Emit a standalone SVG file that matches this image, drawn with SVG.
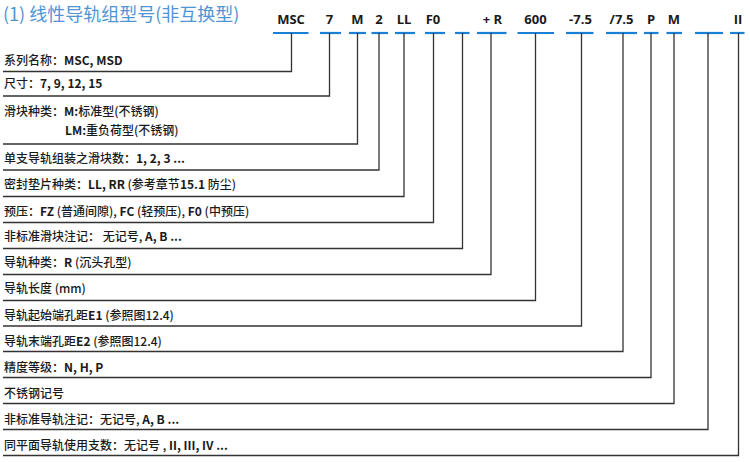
<svg xmlns="http://www.w3.org/2000/svg" width="750" height="462" viewBox="0 0 750 462">
<style>
.title{font-family:"Noto Sans CJK SC","Noto Sans",sans-serif;font-size:18px;font-weight:400;fill:#4f95d6}
.code{font-family:"Open Sans","Noto Sans",sans-serif;font-weight:700;font-size:13px;fill:#1a1a1a;text-anchor:middle}
.lbl{font-family:"Noto Sans CJK SC","Noto Sans",sans-serif;font-size:12px;font-weight:500;fill:#1a1a1a}
.b{font-weight:700}
.ul{stroke:#1a80d6;stroke-width:2.2;fill:none}
.con{stroke:#333;stroke-width:1.3;fill:none}
</style>
<rect width="750" height="462" fill="#fff"/>
<text class="title" x="3" y="21">(1) 线性导轨组型号(非互换型)</text>
<g id="codes">
<g id="c-msc"><text class="code" x="291" y="24">MSC</text><line class="ul" x1="273" y1="33" x2="308.5" y2="33"/></g>
<g id="c-7"><text class="code" x="329.5" y="24">7</text><line class="ul" x1="320" y1="33" x2="341" y2="33"/></g>
<g id="c-m"><text class="code" x="357.5" y="24">M</text><line class="ul" x1="349" y1="33" x2="366" y2="33"/></g>
<g id="c-2"><text class="code" x="379" y="24">2</text><line class="ul" x1="371.5" y1="33" x2="388" y2="33"/></g>
<g id="c-ll"><text class="code" x="404" y="24">LL</text><line class="ul" x1="395" y1="33" x2="415" y2="33"/></g>
<g id="c-f0"><text class="code" x="433" y="24">F0</text><line class="ul" x1="425" y1="33" x2="445" y2="33"/></g>
<g id="c-blank1"><line class="ul" x1="455" y1="33" x2="469.5" y2="33"/></g>
<g id="c-r"><text class="code" x="492.5" y="24">+ R</text><line class="ul" x1="477" y1="33" x2="506.5" y2="33"/></g>
<g id="c-600"><text class="code" x="535.5" y="24">600</text><line class="ul" x1="517.5" y1="33" x2="554" y2="33"/></g>
<g id="c-e1"><text class="code" x="580.5" y="24">-7.5</text><line class="ul" x1="566" y1="33" x2="593.5" y2="33"/></g>
<g id="c-e2"><text class="code" x="621.5" y="24">/7.5</text><line class="ul" x1="606" y1="33" x2="637" y2="33"/></g>
<g id="c-p"><text class="code" x="651" y="24">P</text><line class="ul" x1="644" y1="33" x2="658.5" y2="33"/></g>
<g id="c-m2"><text class="code" x="674" y="24">M</text><line class="ul" x1="666.5" y1="33" x2="682" y2="33"/></g>
<g id="c-blank2"><line class="ul" x1="695" y1="33" x2="723" y2="33"/></g>
<g id="c-ii"><text class="code" x="738" y="24">II</text><line class="ul" x1="730" y1="33" x2="744.5" y2="33"/></g>
</g>
<g id="labels">
<g id="l1"><text class="lbl" x="4" y="64.5">系列名称：<tspan class="b">MSC, MSD</tspan></text></g>
<g id="l2"><text class="lbl" x="4" y="88">尺寸：<tspan class="b">7, 9, 12, 15</tspan></text></g>
<g id="l3"><text class="lbl" x="4" y="116">滑块种类：<tspan class="b">M:</tspan>标准型(不锈钢)</text><text class="lbl" x="65" y="135"><tspan class="b">LM:</tspan>重负荷型(不锈钢)</text></g>
<g id="l4"><text class="lbl" x="4" y="163">单支导轨组装之滑块数：<tspan class="b">1, 2, 3 ...</tspan></text></g>
<g id="l5"><text class="lbl" x="4" y="189">密封垫片种类：<tspan class="b">LL, RR</tspan> (参考章节<tspan class="b">15.1</tspan> 防尘)</text></g>
<g id="l6"><text class="lbl" x="4" y="216">预压：<tspan class="b">FZ</tspan> (普通间隙), <tspan class="b">FC</tspan> (轻预压), <tspan class="b">F0</tspan> (中预压)</text></g>
<g id="l7"><text class="lbl" x="4" y="241">非标准滑块注记： 无记号, <tspan class="b">A, B ...</tspan></text></g>
<g id="l8"><text class="lbl" x="4" y="267">导轨种类：<tspan class="b">R</tspan> (沉头孔型)</text></g>
<g id="l9"><text class="lbl" x="4" y="293">导轨长度 (mm)</text></g>
<g id="l10"><text class="lbl" x="4" y="319.5">导轨起始端孔距<tspan class="b">E1</tspan> (参照图12.4)</text></g>
<g id="l11"><text class="lbl" x="4" y="346">导轨末端孔距<tspan class="b">E2</tspan> (参照图12.4)</text></g>
<g id="l12"><text class="lbl" x="4" y="372">精度等级：<tspan class="b">N, H, P</tspan></text></g>
<g id="l13"><text class="lbl" x="4" y="398">不锈钢记号</text></g>
<g id="l14"><text class="lbl" x="4" y="423.5">非标准导轨注记：无记号, <tspan class="b">A, B ...</tspan></text></g>
<g id="l15"><text class="lbl" x="4" y="450">同平面导轨使用支数：无记号 , <tspan class="b">II, III, IV ...</tspan></text></g>
</g>
<g id="connectors">
<path class="con" d="M3 71.5H291.5V33"/>
<path class="con" d="M3 96H329.5V33"/>
<path class="con" d="M3 144H357.5V33"/>
<path class="con" d="M3 170H379V33"/>
<path class="con" d="M3 196.5H404V33"/>
<path class="con" d="M3 222.5H433.5V33"/>
<path class="con" d="M3 248.5H462.5V33"/>
<path class="con" d="M3 274.5H491V33"/>
<path class="con" d="M3 300.5H535.5V33"/>
<path class="con" d="M3 326H581.5V33"/>
<path class="con" d="M3 351.5H623V33"/>
<path class="con" d="M3 377.5H651V33"/>
<path class="con" d="M3 403.5H674V33"/>
<path class="con" d="M3 429.5H708V33"/>
<path class="con" d="M3 455.5H738.5V33"/>
</g>
</svg>
